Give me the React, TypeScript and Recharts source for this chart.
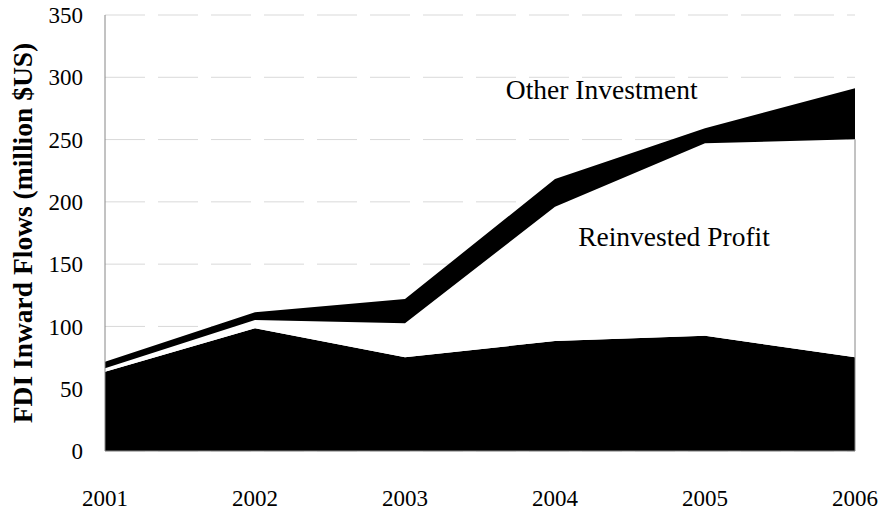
import React from 'react';
import {
  AreaChart,
  Area,
  XAxis,
  YAxis,
  CartesianGrid,
  ReferenceLine,
  ReferenceDot,
  Label,
} from 'recharts';

const years = ['2001', '2002', '2003', '2004', '2005', '2006'];
const equityCapital = [63.7, 98.5, 75.2, 88.3, 92.6, 75.2];
const reinvestedProfit = [2.7, 6.7, 27.3, 107.8, 154.4, 175];
const otherInvestment = [5.3, 6.1, 19.5, 22.2, 12, 41];
const yTicks = [0, 50, 100, 150, 200, 250, 300, 350];

const data = years.map((year, i) => ({
  year,
  equity: equityCapital[i],
  reinvested: reinvestedProfit[i],
  other: otherInvestment[i],
}));

const lastIdx = years.length - 1;
const lastYear = years[lastIdx];
const lastMid = equityCapital[lastIdx] + reinvestedProfit[lastIdx];

const FONT = '"Liberation Serif", "Times New Roman", serif';
const AXIS_GRAY = '#868686';

export default function App() {
  return (
    <div style={{ position: 'absolute', left: 0, top: 0, background: '#fff' }}>
      <AreaChart
        width={882}
        height={510}
        data={data}
        margin={{ top: 15, right: 27, bottom: 0, left: 0 }}
        style={{ fontFamily: FONT }}
      >
        <CartesianGrid
          vertical={false}
          stroke="#d9d9d9"
          strokeDasharray="40 13"
        />
        <Area
          type="linear"
          dataKey="equity"
          stackId="1"
          fill="#000"
          fillOpacity={1}
          stroke="none"
          isAnimationActive={false}
        />
        <Area
          type="linear"
          dataKey="reinvested"
          stackId="1"
          fill="#fff"
          fillOpacity={1}
          stroke="none"
          isAnimationActive={false}
        />
        <Area
          type="linear"
          dataKey="other"
          stackId="1"
          fill="#000"
          fillOpacity={1}
          stroke="none"
          isAnimationActive={false}
        />
        <ReferenceLine
          segment={[
            { x: lastYear, y: 0 },
            { x: lastYear, y: lastMid },
          ]}
          stroke={AXIS_GRAY}
          strokeWidth={1}
          ifOverflow="visible"
        />
        <ReferenceDot
          x="2004"
          y={290.6}
          r={0}
          fill="none"
          stroke="none"
          ifOverflow="visible"
        >
          <Label
            value="Other Investment"
            position="center"
            dx={46.7}
            fill="#000"
            fontSize={27.5}
            fontFamily={FONT}
          />
        </ReferenceDot>
        <ReferenceDot
          x="2004"
          y={172}
          r={0}
          fill="none"
          stroke="none"
          ifOverflow="visible"
        >
          <Label
            value="Reinvested Profit"
            position="center"
            dx={119}
            fill="#000"
            fontSize={27.5}
            fontFamily={FONT}
          />
        </ReferenceDot>
        <XAxis
          dataKey="year"
          height={59}
          axisLine={{ stroke: AXIS_GRAY, strokeWidth: 1 }}
          tickLine={false}
          tickMargin={33}
          tick={{ fill: '#000', fontSize: 23, fontFamily: FONT }}
          interval={0}
        />
        <YAxis
          width={105}
          domain={[0, 350]}
          ticks={yTicks}
          axisLine={{ stroke: AXIS_GRAY, strokeWidth: 1 }}
          tickLine={false}
          tickMargin={16}
          tick={{ fill: '#000', fontSize: 23, fontFamily: FONT }}
          allowDataOverflow
        >
          <Label
            value="FDI Inward Flows (million $US)"
            angle={-90}
            position="center"
            dx={-30.5}
            fill="#000"
            fontSize={27.5}
            fontWeight="bold"
            fontFamily={FONT}
          />
        </YAxis>
      </AreaChart>
    </div>
  );
}
